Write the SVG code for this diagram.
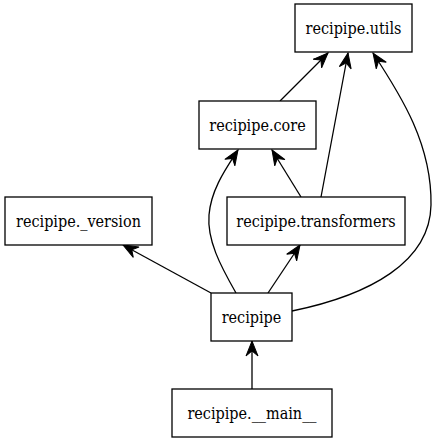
<svg xmlns="http://www.w3.org/2000/svg" width="436" height="443" viewBox="0 0 436 443">
<style>
.node rect{fill:#fff;stroke:#000;stroke-width:1.3}
.node text{font-family:"DejaVu Serif Condensed","DejaVu Serif",serif;font-stretch:condensed;font-size:16px;fill:#000;text-anchor:middle}
.edges path{fill:none;stroke:#000;stroke-width:1.3;marker-end:url(#vee)}
</style>
<defs>
<marker id="vee" markerUnits="userSpaceOnUse" markerWidth="20" markerHeight="20" refX="15" refY="7" orient="auto" overflow="visible">
<path d="M15,7 L0,1 L5,7 L0,13 Z" fill="#000" stroke="#000" stroke-width="1"/>
</marker>
</defs>
<rect width="436" height="443" fill="#fff"/>
<g class="edges">
<path d="M280,101 L328,53"/>
<path d="M321,197 L348,53"/>
<path d="M292,311 C370,295 430,262 431,205 C432,145 402,97 373,53"/>
<path d="M301,197 L272,150"/>
<path d="M236,293 C220,265 207,240 209,215 C211,190 225,170 238,150"/>
<path d="M268,293 L300,245"/>
<path d="M211,293 L123,245"/>
<path d="M252,389 L252,341"/>
</g>
<g id="utils" class="node"><rect x="295" y="4" width="117" height="48"/><text x="353.5" y="33.5">recipipe.utils</text></g>
<g id="core" class="node"><rect x="199" y="101" width="117" height="48"/><text x="257.5" y="130.5">recipipe.core</text></g>
<g id="version" class="node"><rect x="5" y="197" width="147" height="48"/><text x="78.5" y="226.5">recipipe._version</text></g>
<g id="transformers" class="node"><rect x="227" y="197" width="178" height="48"/><text x="316" y="226.5">recipipe.transformers</text></g>
<g id="recipipe" class="node"><rect x="211" y="293" width="81" height="48"/><text x="251.5" y="322.5">recipipe</text></g>
<g id="main" class="node"><rect x="172" y="389" width="160" height="48"/><text x="252" y="418.5">recipipe.__main__</text></g>
</svg>
